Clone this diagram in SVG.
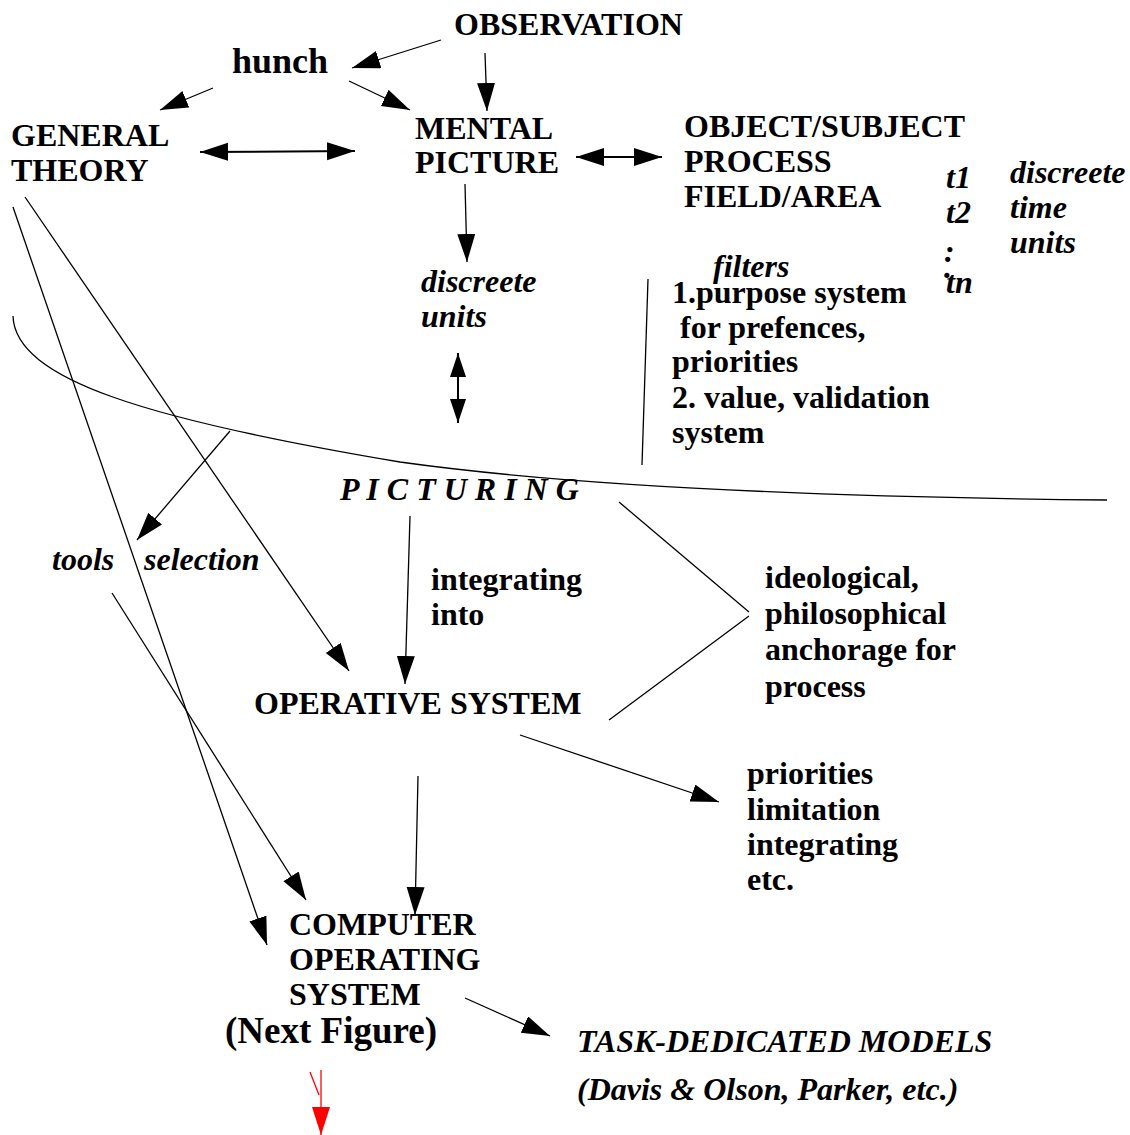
<svg xmlns="http://www.w3.org/2000/svg" width="1130" height="1135" viewBox="0 0 1130 1135">
  <style>
    text { font-family: "Liberation Serif", "Times New Roman", serif; font-weight: bold; font-size: 32px; fill: #000; }
    .it { font-style: italic; }
    .big { font-size: 36px; }
    .ln { fill: none; stroke: #000; stroke-width: 1.3; }
    .arr { marker-end: url(#ah); }
    .dbl { marker-start: url(#ah); marker-end: url(#ah); stroke-width: 2; }
    .red { fill: none; stroke: #f00; stroke-width: 1.3; }
  </style>
  <defs>
    <marker id="ah" markerUnits="userSpaceOnUse" markerWidth="30" markerHeight="20" refX="28" refY="9" orient="auto-start-reverse">
      <path d="M0,0 L28,9 L0,18 z" fill="#000"/>
    </marker>
    <marker id="ahs" markerUnits="userSpaceOnUse" markerWidth="26" markerHeight="18" refX="24" refY="8" orient="auto-start-reverse">
      <path d="M0,0 L24,8 L0,16 z" fill="#000"/>
    </marker>
    <marker id="ahr" markerUnits="userSpaceOnUse" markerWidth="30" markerHeight="20" refX="28" refY="9" orient="auto">
      <path d="M0,0 L28,9 L0,18 z" fill="#f00"/>
    </marker>
  </defs>

  <rect width="1130" height="1135" fill="#fff"/>

  <!-- connectors -->
  <g id="connectors">
    <line class="ln arr" x1="441" y1="40" x2="352" y2="68"/>
    <line class="ln arr" x1="485" y1="53" x2="487" y2="111"/>
    <line class="ln arr" x1="213" y1="88" x2="160" y2="110"/>
    <line class="ln arr" x1="349" y1="81" x2="410" y2="110"/>
    <line class="ln dbl" x1="200" y1="152" x2="355" y2="151"/>
    <line class="ln dbl" x1="576" y1="157" x2="662" y2="157"/>
    <line class="ln arr" x1="465" y1="184" x2="467" y2="262"/>
    <line class="ln" x1="458" y1="353" x2="458" y2="423" style="marker-start:url(#ahs);marker-end:url(#ahs);stroke-width:2"/>
    <line class="ln" x1="648" y1="279" x2="642" y2="465"/>
    <path class="ln" d="M13,316 C15,380 150,420 400,462 C600,490 900,498 1107,500"/>
    <line class="ln arr" x1="230" y1="431" x2="137" y2="540"/>
    <line class="ln arr" x1="13" y1="207" x2="267" y2="945"/>
    <line class="ln arr" x1="25" y1="197" x2="349" y2="671"/>
    <line class="ln arr" x1="112" y1="593" x2="306" y2="900"/>
    <line class="ln arr" x1="410" y1="516" x2="405" y2="684"/>
    <polyline class="ln" points="619,502 749,612"/>
    <polyline class="ln" points="749,616 609,720"/>
    <line class="ln arr" x1="520" y1="735" x2="719" y2="802"/>
    <line class="ln arr" x1="418" y1="776" x2="415" y2="915"/>
    <line class="ln arr" x1="465" y1="998" x2="550" y2="1036"/>
    <line class="red" x1="310" y1="1072" x2="319" y2="1095"/>
    <line class="red" x1="321" y1="1070" x2="321" y2="1135" style="marker-end:url(#ahr)"/>
  </g>

  <g id="observation"><text x="454" y="35">OBSERVATION</text></g>
  <g id="hunch"><text class="big" x="232" y="73">hunch</text></g>
  <g id="general-theory">
    <text x="11" y="146">GENERAL</text>
    <text x="11" y="181">THEORY</text>
  </g>
  <g id="mental-picture">
    <text x="415" y="139">MENTAL</text>
    <text x="415" y="173">PICTURE</text>
  </g>
  <g id="object-subject">
    <text x="684" y="137">OBJECT/SUBJECT</text>
    <text x="684" y="172">PROCESS</text>
    <text x="684" y="207">FIELD/AREA</text>
  </g>
  <g id="time-steps">
    <text class="it" x="946" y="188">t1</text>
    <text class="it" x="946" y="223">t2</text>
    <text class="it"><tspan x="944" y="262">:</tspan><tspan x="944" y="278">.</tspan><tspan x="946" y="293">tn</tspan></text>
  </g>
  <g id="time-units">
    <text class="it" x="1010" y="183">discreete</text>
    <text class="it" x="1010" y="218">time</text>
    <text class="it" x="1010" y="253">units</text>
  </g>
  <g id="filters">
    <text class="it" x="713" y="277">filters</text>
    <text x="672" y="303">1.purpose system</text>
    <text x="680" y="338">for prefences,</text>
    <text x="672" y="372">priorities</text>
    <text x="672" y="408">2. value, validation</text>
    <text x="672" y="443">system</text>
  </g>
  <g id="discreete-units">
    <text class="it" x="421" y="292">discreete</text>
    <text class="it" x="421" y="327">units</text>
  </g>
  <g id="picturing"><text class="it" x="340" y="500">P I C T U R I N G</text></g>
  <g id="tools-selection">
    <text class="it" x="52" y="570">tools</text>
    <text class="it" x="144" y="570">selection</text>
  </g>
  <g id="integrating-into">
    <text x="431" y="590">integrating</text>
    <text x="431" y="625">into</text>
  </g>
  <g id="operative-system"><text x="254" y="714">OPERATIVE SYSTEM</text></g>
  <g id="anchorage">
    <text x="765" y="588">ideological,</text>
    <text x="765" y="624">philosophical</text>
    <text x="765" y="660">anchorage for</text>
    <text x="765" y="697">process</text>
  </g>
  <g id="priorities">
    <text x="747" y="784">priorities</text>
    <text x="747" y="820">limitation</text>
    <text x="747" y="855">integrating</text>
    <text x="747" y="890">etc.</text>
  </g>
  <g id="computer-operating-system">
    <text x="289" y="935">COMPUTER</text>
    <text x="289" y="970">OPERATING</text>
    <text x="289" y="1005">SYSTEM</text>
    <text class="big" x="225" y="1043" style="font-size:37px">(Next Figure)</text>
  </g>
  <g id="task-dedicated-models">
    <text class="it" x="577" y="1052">TASK-DEDICATED MODELS</text>
    <text class="it" x="577" y="1100">(Davis &amp; Olson, Parker, etc.)</text>
  </g>
</svg>
